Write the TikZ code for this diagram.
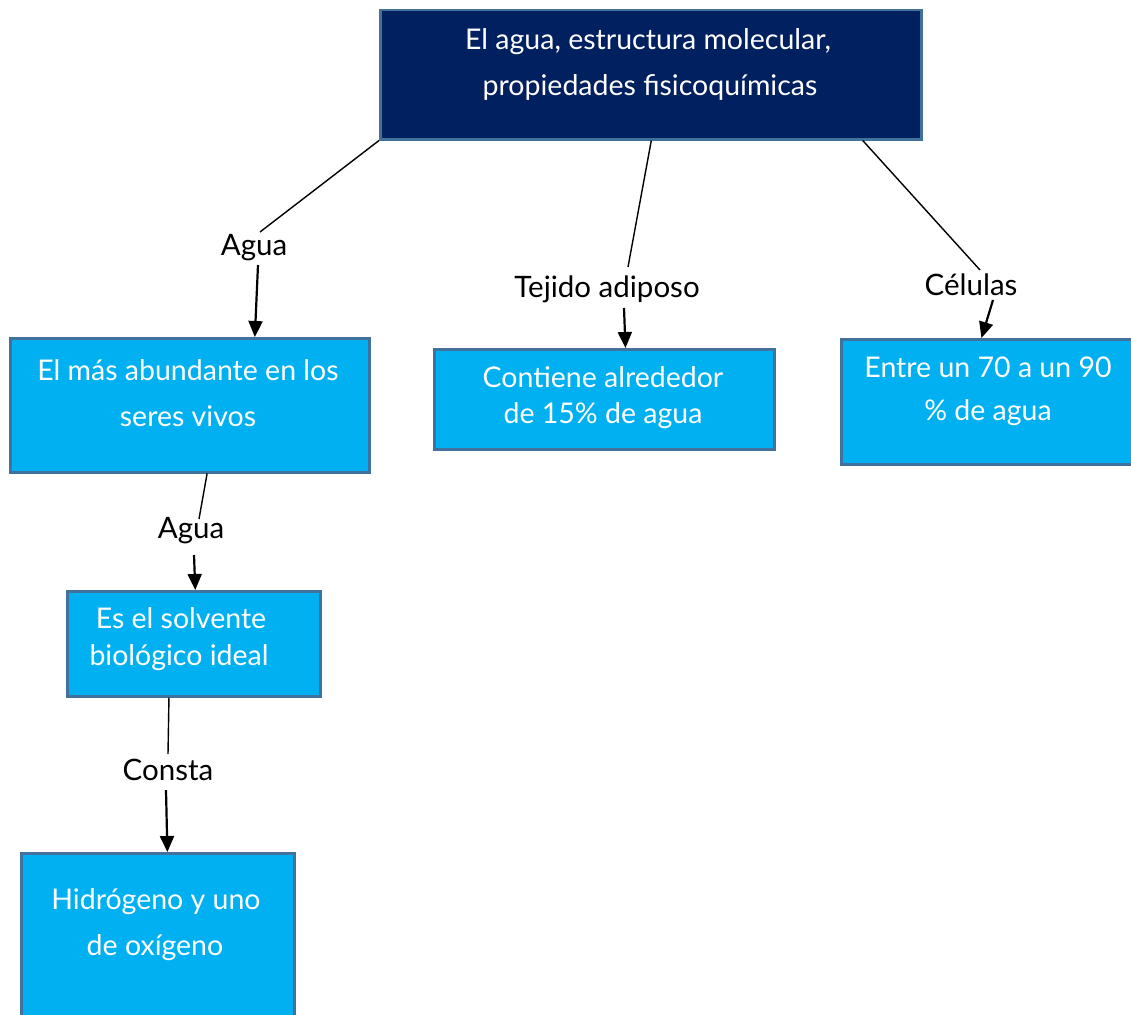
\documentclass[tikz,border=0pt]{standalone}
\usepackage{fontspec}
\setmainfont{Lato}
\usetikzlibrary{arrows.meta,calc}
\definecolor{navy}{RGB}{0,32,96}
\definecolor{cyanbox}{RGB}{0,176,240}
\definecolor{edgeblue}{RGB}{65,113,156}
\tikzset{
  box/.style={draw=edgeblue, line width=2.5pt, anchor=north west, inner sep=0pt},
  topbox/.style={box, fill=navy},
  subbox/.style={box, fill=cyanbox},
  boxtext/.style={text=white, font=\fontsize{28.5}{32}\selectfont, align=center},
  lbl/.style={font=\fontsize{29.5}{32}\selectfont, inner sep=1pt},
  link/.style={line width=1.4pt},
  arr/.style={line width=2.2pt, -{Triangle[length=16pt,width=14pt]}}
}
\begin{document}
\begin{tikzpicture}[x=1pt,y=-1pt]
\useasboundingbox (0,0) rectangle (1131,1014);
\begin{scope}
\clip (0,0) rectangle (1131,1014);
% boxes
\node[topbox, minimum width=541pt, minimum height=129pt] (top) at (379,9) {};
\node[subbox, minimum width=359pt, minimum height=134pt] (A) at (9,337) {};
\node[subbox, minimum width=340pt, minimum height=100pt] (B) at (433,348) {};
\node[subbox, minimum width=305pt, minimum height=125pt] (C) at (840,338) {};
\node[subbox, minimum width=253pt, minimum height=105pt] (D) at (66,590) {};
\node[subbox, minimum width=273pt, minimum height=175pt] (E) at (20,852) {};
\end{scope}
% texts
\node[boxtext] (ttop1) at (648,42) {El agua, estructura molecular,};
\node[boxtext] (ttop2) at (650,87) {propiedades fisicoquímicas};
\node[boxtext] (tA1) at (188,370) {El más abundante en los};
\node[boxtext] (tA2) at (188,416) {seres vivos};
\node[boxtext] (tB1) at (603,377) {Contiene alrededor};
\node[boxtext] (tB2) at (603,416) {de 15\% de agua};
\node[boxtext] (tC1) at (988,367) {Entre un 70 a un 90};
\node[boxtext] (tC2) at (988,413) {\% de agua};
\node[boxtext] (tD1) at (181,618) {Es el solvente};
\node[boxtext] (tD2) at (179,658) {biológico ideal};
\node[boxtext] (tE1) at (156,902) {Hidrógeno y uno};
\node[boxtext] (tE2) at (155,948) {de oxígeno};
% labels
\node[lbl] (l1) at (254,248) {Agua};
\node[lbl] (l2) at (607,289) {Tejido adiposo};
\node[lbl] (l3) at (971,285) {Células};
\node[lbl] (l4) at (191,531) {Agua};
\node[lbl] (l5) at (168,770) {Consta};
% connector anchor points
\coordinate (s1) at ($(top.south west)!0.0!(top.south east)$);
\coordinate (s2) at ($(top.south west)!0.501!(top.south east)$);
\coordinate (s3) at ($(top.south west)!0.89!(top.south east)$);
\coordinate (e1) at ($(A.north west)!0.68!(A.north east)$);
\coordinate (e2) at ($(B.north west)!0.562!(B.north east)$);
\coordinate (e3) at ($(C.north west)!0.46!(C.north east)$);
\coordinate (s4) at ($(A.south west)!0.548!(A.south east)$);
\coordinate (e4) at ($(D.north west)!0.506!(D.north east)$);
\coordinate (s5) at ($(D.south west)!0.403!(D.south east)$);
\coordinate (e5) at ($(E.north west)!0.535!(E.north east)$);
\coordinate (m1) at (260,232);
\coordinate (n1) at (258,265);
\coordinate (m2) at (628,267);
\coordinate (n2) at (624,308);
\coordinate (m3) at (980,270);
\coordinate (n3) at (993,300);
\coordinate (m4) at (199,519);
\coordinate (n4) at (194,555);
\coordinate (m5) at (168,754);
\coordinate (n5) at (166,790);
% connectors
\draw[link] (s1) -- (m1);
\draw[arr] (n1) -- (e1);
\draw[link] (s2) -- (m2);
\draw[arr] (n2) -- (e2);
\draw[link] (s3) -- (m3);
\draw[arr] (n3) -- (e3);
\draw[link] (s4) -- (m4);
\draw[arr] (n4) -- (e4);
\draw[link] (s5) -- (m5);
\draw[arr] (n5) -- (e5);
\end{tikzpicture}
\end{document}
